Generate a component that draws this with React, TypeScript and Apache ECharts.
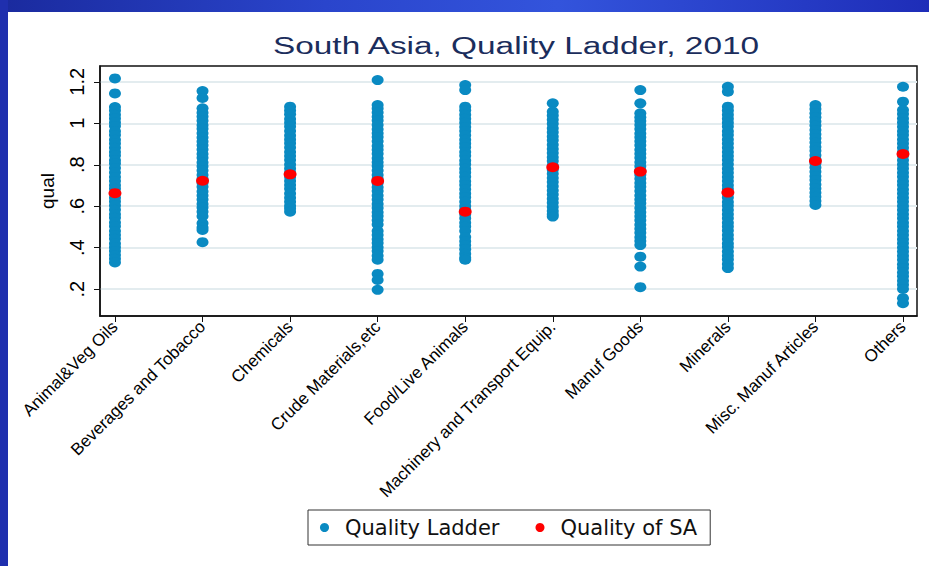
import React, { useEffect, useRef } from 'react';
import * as echarts from 'echarts';

const categories = [
  'Animal&Veg Oils',
  'Beverages and Tobacco',
  'Chemicals',
  'Crude Materials,etc',
  'Food/Live Animals',
  'Machinery and Transport Equip.',
  'Manuf Goods',
  'Minerals',
  'Misc. Manuf Articles',
  'Others',
];

const yTicks = [0.2, 0.4, 0.6, 0.8, 1, 1.2];
const xTicks = [0, 1, 2, 3, 4, 5, 6, 7, 8, 9];

const qualityOfSA = [0.663, 0.723, 0.754, 0.722, 0.574, 0.788, 0.767, 0.666, 0.818, 0.852];

const animalVegOils = [1.216, 1.144, 1.078, 1.062, 1.041, 1.023, 1.004, 0.987, 0.962, 0.944, 0.921, 0.903, 0.882, 0.861, 0.845, 0.822, 0.806, 0.784, 0.763, 0.741, 0.722, 0.701, 0.684, 0.662, 0.641, 0.623, 0.604, 0.583, 0.561, 0.544, 0.522, 0.503, 0.481, 0.462, 0.443, 0.421, 0.402, 0.384, 0.365, 0.347, 0.329];
const beveragesTobacco = [1.155, 1.122, 1.072, 1.051, 1.033, 1.012, 0.991, 0.973, 0.952, 0.931, 0.912, 0.894, 0.873, 0.852, 0.834, 0.811, 0.793, 0.772, 0.751, 0.733, 0.712, 0.694, 0.671, 0.652, 0.633, 0.611, 0.594, 0.573, 0.552, 0.518, 0.497, 0.486, 0.427];
const chemicals = [1.08, 1.061, 1.043, 1.021, 1.002, 0.984, 0.963, 0.941, 0.922, 0.904, 0.883, 0.861, 0.842, 0.823, 0.801, 0.782, 0.763, 0.741, 0.722, 0.703, 0.684, 0.662, 0.641, 0.622, 0.603, 0.589, 0.574];
const crudeMaterials = [1.208, 1.088, 1.071, 1.052, 1.031, 1.013, 0.992, 0.971, 0.952, 0.934, 0.913, 0.891, 0.872, 0.853, 0.831, 0.812, 0.794, 0.772, 0.751, 0.733, 0.712, 0.691, 0.673, 0.652, 0.633, 0.611, 0.592, 0.571, 0.553, 0.532, 0.512, 0.481, 0.462, 0.441, 0.423, 0.402, 0.384, 0.362, 0.342, 0.274, 0.245, 0.197];
const foodLiveAnimals = [1.184, 1.16, 1.08, 1.063, 1.041, 1.022, 1.003, 0.982, 0.963, 0.942, 0.921, 0.903, 0.884, 0.862, 0.843, 0.821, 0.802, 0.781, 0.763, 0.742, 0.721, 0.703, 0.682, 0.661, 0.643, 0.622, 0.601, 0.583, 0.561, 0.542, 0.521, 0.502, 0.481, 0.452, 0.431, 0.412, 0.393, 0.371, 0.352, 0.342];
const machineryTransport = [1.096, 1.056, 1.038, 1.017, 0.998, 0.976, 0.957, 0.936, 0.918, 0.897, 0.876, 0.857, 0.836, 0.818, 0.797, 0.776, 0.757, 0.736, 0.717, 0.696, 0.676, 0.657, 0.636, 0.617, 0.596, 0.577, 0.562, 0.55];
const manufGoods = [1.16, 1.096, 1.048, 1.029, 1.011, 0.992, 0.972, 0.951, 0.932, 0.913, 0.894, 0.872, 0.853, 0.834, 0.812, 0.793, 0.774, 0.752, 0.733, 0.712, 0.694, 0.673, 0.652, 0.633, 0.614, 0.592, 0.571, 0.552, 0.532, 0.511, 0.492, 0.472, 0.451, 0.433, 0.413, 0.357, 0.309, 0.21];
const minerals = [1.176, 1.152, 1.08, 1.062, 1.041, 1.022, 1.003, 0.984, 0.962, 0.943, 0.922, 0.903, 0.882, 0.861, 0.842, 0.823, 0.802, 0.781, 0.762, 0.741, 0.722, 0.701, 0.683, 0.661, 0.642, 0.621, 0.603, 0.582, 0.561, 0.542, 0.521, 0.502, 0.483, 0.461, 0.442, 0.421, 0.403, 0.382, 0.361, 0.343, 0.322, 0.302];
const miscManufArticles = [1.088, 1.069, 1.048, 1.029, 1.008, 0.989, 0.968, 0.947, 0.928, 0.907, 0.886, 0.867, 0.846, 0.827, 0.806, 0.787, 0.766, 0.745, 0.726, 0.705, 0.686, 0.665, 0.646, 0.625, 0.606];
const others = [1.176, 1.104, 1.064, 1.045, 1.023, 1.004, 0.983, 0.962, 0.943, 0.922, 0.903, 0.882, 0.861, 0.843, 0.822, 0.801, 0.782, 0.761, 0.742, 0.721, 0.702, 0.681, 0.662, 0.641, 0.622, 0.601, 0.582, 0.561, 0.542, 0.521, 0.502, 0.481, 0.462, 0.441, 0.422, 0.401, 0.382, 0.361, 0.342, 0.321, 0.302, 0.281, 0.262, 0.241, 0.222, 0.201, 0.157, 0.133];

const ladderByCategory = [
  animalVegOils,
  beveragesTobacco,
  chemicals,
  crudeMaterials,
  foodLiveAnimals,
  machineryTransport,
  manufGoods,
  minerals,
  miscManufArticles,
  others,
];

const BLUE = '#0a8ac2';
const RED = '#ff0000';
const FONT = 'Liberation Sans, Arial, Helvetica, sans-serif';

export default function App() {
  const ref = useRef<HTMLDivElement>(null);

  useEffect(() => {
    document.body.style.margin = '0';
    if (!ref.current) return;
    const chart = echarts.init(ref.current, null, { renderer: 'svg' });

    const ladderData: [number, number][] = [];
    ladderByCategory.forEach((vals, i) => {
      vals.forEach((v) => ladderData.push([i, v]));
    });
    const saData = qualityOfSA.map((v, i) => [i, v]);

    const fmtY = (v: number) => {
      if (Math.abs(v - 1) < 1e-9) return '1';
      const s = v.toFixed(1);
      return s.startsWith('0') ? s.slice(1) : s;
    };

    chart.setOption({
      animation: false,
      backgroundColor: '#ffffff',
      graphic: [
        {
          type: 'rect',
          shape: { x: 0, y: 0, width: 929, height: 12 },
          style: {
            fill: new echarts.graphic.LinearGradient(0, 0, 1, 0, [
              { offset: 0, color: '#1a2a9e' },
              { offset: 0.35, color: '#2a45cc' },
              { offset: 0.6, color: '#3354dc' },
              { offset: 1, color: '#1e2db8' },
            ]),
          },
          silent: true,
        },
        {
          type: 'rect',
          shape: { x: 0, y: 0, width: 8, height: 566 },
          style: { fill: '#1f2fae' },
          silent: true,
        },
        {
          type: 'text',
          x: 273,
          y: 46,
          scaleX: 1.42,
          style: {
            text: 'South Asia, Quality Ladder, 2010',
            x: 0,
            y: 0,
            fill: '#1b2d5c',
            font: '23.5px ' + FONT,
            textAlign: 'left',
            textVerticalAlign: 'middle',
            verticalAlign: 'middle',
          },
        },
      ],
      legend: {
        left: 308,
        top: 510,
        orient: 'horizontal',
        padding: [7, 13, 7, 12],
        itemGap: 36,
        itemWidth: 9,
        itemHeight: 9,
        borderColor: '#333333',
        borderWidth: 1,
        backgroundColor: '#ffffff',
        textStyle: {
          fontFamily: 'DejaVu Sans, sans-serif',
          fontSize: 21,
          color: '#111111',
          padding: [0, 0, 0, 11],
        },
        data: [
          { name: 'Quality Ladder', icon: 'circle' },
          { name: 'Quality of SA', icon: 'circle' },
        ],
      },
      grid: {
        left: 100,
        right: 12,
        top: 66,
        bottom: 250,
        show: true,
        borderColor: '#111111',
        borderWidth: 1.5,
        backgroundColor: '#ffffff',
        containLabel: false,
        outerBoundsMode: 'none',
      },
      xAxis: {
        type: 'value',
        position: 'bottom',
        min: -0.171,
        max: 9.16,
        axisLine: { show: true, onZero: false, lineStyle: { color: '#111111', width: 1.5 } },
        splitLine: { show: false },
        axisTick: {
          show: true,
          inside: false,
          customValues: xTicks,
          length: 6,
          lineStyle: { color: '#111111', width: 1 },
        },
        axisLabel: {
          customValues: xTicks,
          rotate: 45,
          margin: 8,
          fontSize: 17,
          fontFamily: FONT,
          color: '#000000',
          formatter: (v: number) => categories[Math.round(v)] ?? '',
        },
      },
      yAxis: {
        type: 'value',
        position: 'left',
        min: 0.071,
        max: 1.276,
        name: 'qual',
        nameLocation: 'middle',
        nameGap: 43,
        nameRotate: 90,
        nameTextStyle: { fontSize: 19, fontFamily: FONT, color: '#000000' },
        axisLine: { show: true, onZero: false, lineStyle: { color: '#111111', width: 1.5 } },
        axisTick: {
          show: true,
          inside: false,
          customValues: yTicks,
          length: 6,
          lineStyle: { color: '#111111', width: 1 },
        },
        splitLine: {
          show: true,
          lineStyle: { color: '#e3ecef', width: 2 },
        },
        axisLabel: {
          customValues: yTicks,
          rotate: 90,
          margin: 13,
          fontSize: 20,
          fontFamily: FONT,
          color: '#000000',
          formatter: fmtY,
        },
      },
      series: [
        {
          name: 'Quality Ladder',
          type: 'scatter',
          data: ladderData,
          symbol: 'circle',
          symbolSize: [12, 10],
          itemStyle: { color: BLUE, opacity: 1 },
          z: 2,
        },
        {
          name: 'Quality of SA',
          type: 'scatter',
          data: saData,
          symbol: 'circle',
          symbolSize: [13, 10],
          itemStyle: { color: RED, opacity: 1 },
          z: 3,
        },
      ],
    });

    return () => {
      chart.dispose();
    };
  }, []);

  return (
    <div
      ref={ref}
      style={{ width: 929, height: 566, background: '#ffffff', overflow: 'hidden' }}
    />
  );
}
